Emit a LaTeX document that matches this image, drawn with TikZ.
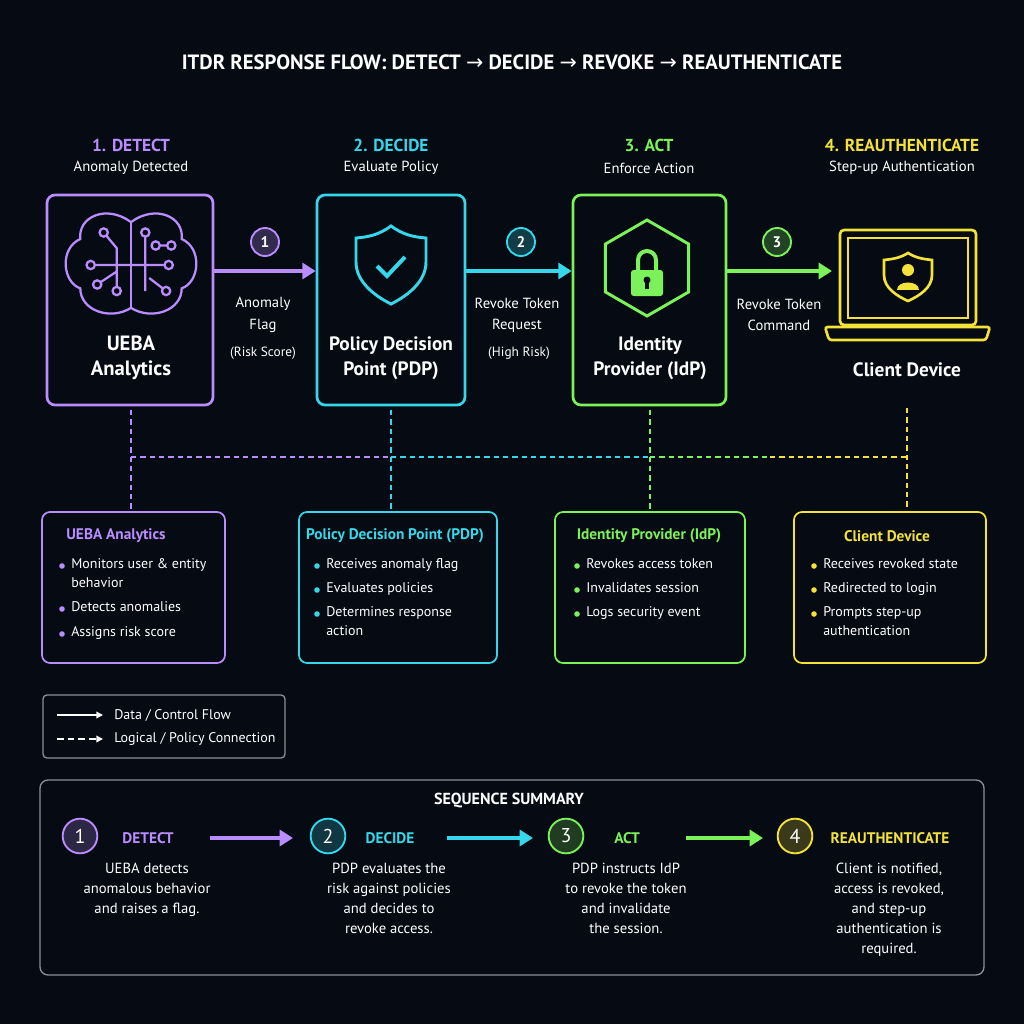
\documentclass[tikz,border=0pt]{standalone}
\usepackage{fontspec}
\setmainfont{PT Sans}
\newfontfamily\djv{DejaVu Sans}
\usetikzlibrary{arrows.meta,shapes.geometric}
\definecolor{bg}{HTML}{060A12}
\definecolor{pur}{HTML}{B98CFF}
\definecolor{cya}{HTML}{35D8EA}
\definecolor{grn}{HTML}{7CF25A}
\definecolor{yel}{HTML}{F2E23A}
\definecolor{gr}{HTML}{8A8F99}
\begin{document}
\begin{tikzpicture}[x=0.75pt,y=-0.75pt,
 txt/.style={text=white,font=\fontsize{11}{16}\selectfont,align=center},
 big/.style={text=white,font=\bfseries\fontsize{15.5}{19}\selectfont,align=center},
 head/.style={font=\bfseries\fontsize{13}{15}\selectfont},
 mbox/.style={draw,line width=2pt,rounded corners=6pt,fill=bg},
 sbox/.style={draw,line width=1.3pt,rounded corners=6pt},
 flow/.style={line width=2.4pt,-{Triangle[length=10pt,width=12pt]}},
 dsh/.style={line width=1.2pt,dash pattern=on 4pt off 3pt},
 num/.style={circle,draw,line width=1.4pt,minimum size=21pt,inner sep=0pt,text=white,font=\bfseries\fontsize{11.5}{12}\selectfont},
 bl/.style={anchor=north west,text=white,font=\fontsize{10.5}{14.5}\selectfont,align=left,inner sep=0pt}]
\fill[bg] (0,0) rectangle (1024,1024);
\useasboundingbox (0,0) rectangle (1024,1024);
\node[text=white,font=\bfseries\fontsize{15.5}{18}\selectfont] (title) at (512,62) {ITDR RESPONSE FLOW: DETECT {\djv\mdseries →} DECIDE {\djv\mdseries →} REVOKE {\djv\mdseries →} REAUTHENTICATE};
% step headings
\foreach \n/\x/\c/\h/\s in {h1/131/pur/1. DETECT/Anomaly Detected,h2/391/cya/2. DECIDE/Evaluate Policy,h3/649/grn/3. ACT/Enforce Action,h4/902/yel/4. REAUTHENTICATE/Step-up Authentication}{
 \node[head,text=\c] (\n) at (\x,145) {\h};
 \node[txt] (\n s) at (\x,168) {\s};}
% main boxes
\node[mbox,draw=pur,minimum width=124.5pt,minimum height=157.5pt] (ueba) at (130,300) {};
\node[mbox,draw=cya,minimum width=111pt,minimum height=157.5pt] (pdp) at (391,300) {};
\node[mbox,draw=grn,minimum width=114.75pt,minimum height=157.5pt] (idp) at (649.5,300) {};
\coordinate (cd) at (832,271);
\node[big] (uebat) at (131,358) {UEBA\\Analytics};
\node[big,font=\bfseries\fontsize{14.5}{18.5}\selectfont] (pdpt) at (391,358) {Policy Decision\\Point (PDP)};
\node[big,font=\bfseries\fontsize{14.5}{18.5}\selectfont] (idpt) at (650,358) {Identity\\Provider (IdP)};
\node[big,font=\bfseries\fontsize{14.5}{18.5}\selectfont] (cdt) at (907,370) {Client Device};
% brain icon
\begin{scope}[pur,line width=1.7pt,shift={(131,265)},scale=1.3,shift={(-131,-265)}]
\draw (131,232) .. controls (112,218) and (90,228) .. (92,245) .. controls (76,252) and (78,278) .. (92,283) .. controls (92,300) and (115,308) .. (131,298) .. controls (147,308) and (170,300) .. (170,283) .. controls (184,278) and (186,252) .. (170,245) .. controls (172,228) and (150,218) .. (131,232) -- cycle;
\draw (131,232) -- (131,298);
\draw (110,240) -- (120,252) -- (120,285) (100,265) -- (131,265) -- (160,265) (142,240) -- (142,285) (150,250)--(162,250) (105,280)--(120,270) (145,275)--(158,285);
\foreach \p in {(110,240),(100,265),(160,265),(150,250),(162,250),(105,280),(158,285),(142,240),(120,285)} \draw[fill=bg] \p circle (3.2);
\end{scope}
% shield check
\begin{scope}[cya,line width=2.2pt]
\draw (391,226) .. controls (380,234) and (370,237) .. (356,238) -- (356,262) .. controls (356,282) and (375,296) .. (391,304) .. controls (407,296) and (426,282) .. (426,262) -- (426,238) .. controls (412,237) and (402,234) .. (391,226) -- cycle;
\draw[line width=3pt] (377,266) -- (387,276) -- (405,257);
\end{scope}
% hexagon lock
\node[regular polygon,regular polygon sides=6,shape border rotate=30,draw=grn,line width=2.2pt,minimum size=72pt] (hex) at (647,268) {};
\draw[grn,line width=3pt] (638,272) -- (638,260) arc (180:360:9) -- (656,272);
\fill[grn,rounded corners=2pt] (631,270) rectangle (663,296);
\fill[bg] (647,280) circle (3.5); \draw[bg,line width=2.5pt] (647,280) -- (647,289);
% laptop
\begin{scope}[yel,line width=2pt]
\draw[rounded corners=3pt] (840,230) rectangle (976,325);
\draw (848,238) rectangle (968,318);
\draw[rounded corners=2pt] (825,327) -- (990,327) -- (986,340) -- (829,340) -- cycle;
\draw (908,253) .. controls (900,258) and (893,259) .. (884,260) -- (884,275) .. controls (884,288) and (897,296) .. (908,301) .. controls (919,296) and (932,288) .. (932,275) -- (932,260) .. controls (923,259) and (916,258) .. (908,253) -- cycle;
\fill (908,270) circle (6);
\fill (897,290) .. controls (897,280) and (919,280) .. (919,290) -- cycle;
\end{scope}
% flows
\draw[flow,pur] (ueba.east |- 0,271) -- (pdp.west |- 0,271);
\draw[flow,cya] (pdp.east |- 0,271) -- (idp.west |- 0,271);
\draw[flow,grn] (idp.east |- 0,271) -- (cd);
\node[num,draw=pur,fill=pur!25!bg] (n1) at (265,242) {1};
\node[num,draw=cya,fill=cya!25!bg] (n2) at (521,242) {2};
\node[num,draw=grn,fill=grn!25!bg] (n3) at (777,242) {3};
\node[txt] (l1) at (263,315) {Anomaly\\Flag};
\node[txt,font=\fontsize{10}{12}\selectfont] (l1b) at (263,353) {(Risk Score)};
\node[txt] (l2) at (517,315) {Revoke Token\\Request};
\node[txt,font=\fontsize{10}{12}\selectfont] (l2b) at (519,353) {(High Risk)};
\node[txt] (l3) at (779,315) {Revoke Token\\Command};
% dashed links
\coordinate (v4) at (907,408);
\draw[dsh,pur] (131,410) -- (131,510);
\draw[dsh,cya] (391,410) -- (391,510);
\draw[dsh,grn] (650,410) -- (650,510);
\draw[dsh,yel] (v4) -- (907,510);
\draw[dsh,pur] (131,457) -- (391,457);
\draw[dsh,cya] (391,457) -- (650,457);
\draw[dsh,grn] (650,457) -- (770,457);
\draw[dsh,yel] (770,457) -- (907,457);
% detail boxes
\draw[sbox,pur] (42,512) rectangle (225,663);
\draw[sbox,cya] (299,512) rectangle (497,663);
\draw[sbox,grn] (555,512) rectangle (745,663);
\draw[sbox,yel] (794,512) rectangle (986,663);
\node[text=pur,font=\fontsize{11.5}{13}\selectfont\bfseries] (d1) at (116,536) {UEBA Analytics};
\node[text=cya,font=\fontsize{11.5}{13}\selectfont\bfseries] (d2) at (395,536) {Policy Decision Point (PDP)};
\node[text=grn,font=\fontsize{11.5}{13}\selectfont\bfseries] (d3) at (649,536) {Identity Provider (IdP)};
\node[text=yel,font=\fontsize{11.5}{13}\selectfont\bfseries] (d4) at (887,536) {Client Device};
\foreach \x/\c/\items in {58/pur/{566/Monitors user \& entity\\behavior,609/Detects anomalies,634/Assigns risk score},
 313/cya/{566/Receives anomaly flag,590/Evaluates policies,614/Determines response\\action},
 573/grn/{566/Revokes access token,590/Invalidates session,614/Logs security event},
 810/yel/{566/Receives revoked state,590/Redirected to login,614/Prompts step-up\\authentication}}{
 \foreach \y/\t in \items {
  \fill[\c] (\x+4,\y) circle (2.8);
  \node[bl] at (\x+13,\y-8) {\t};}}
% legend
\draw[line width=1pt,gr,rounded corners=3pt] (43,695) rectangle (285,758);
\coordinate (la) at (57,715); \coordinate (lb) at (103,715);
\coordinate (lc) at (57,739); \coordinate (ld) at (103,739);
\draw[white,line width=1.1pt,-{Triangle[length=5pt,width=5pt]}] (la) -- (lb);
\draw[white,line width=1.1pt,dash pattern=on 5pt off 3pt,-{Triangle[length=5pt,width=5pt]}] (lc) -- (ld);
\node[bl,anchor=west,font=\fontsize{10.5}{12}\selectfont] (lg1) at (114,715) {Data / Control Flow};
\node[bl,anchor=west,font=\fontsize{10.5}{12}\selectfont] (lg2) at (114,739) {Logical / Policy Connection};
% summary
\draw[line width=1pt,gr,rounded corners=6pt] (40,780) rectangle (984,975);
\node[text=white,font=\bfseries\fontsize{12}{14}\selectfont] (st) at (509,800) {SEQUENCE SUMMARY};
\foreach \n/\k/\x/\c/\lx/\l/\d in {s1/1/80/pur/148/DETECT/{UEBA detects\\anomalous behavior\\and raises a flag.},
 s2/2/328/cya/390/DECIDE/{PDP evaluates the\\risk against policies\\and decides to\\revoke access.},
 s3/3/566/grn/627/ACT/{PDP instructs IdP\\to revoke the token\\and invalidate\\the session.},
 s4/4/795/yel/890/REAUTHENTICATE/{Client is notified,\\access is revoked,\\and step-up\\authentication is\\required.}}{
 \node[num,draw=\c,fill=\c!22!bg,minimum size=26pt,font=\fontsize{15}{16}\selectfont] (\n) at (\x,836) {\k};
 \node[text=\c,font=\bfseries\fontsize{11.5}{13}\selectfont] (\n l) at (\lx,838) {\l};
 \node[txt,anchor=north,font=\fontsize{11}{15}\selectfont] (\n d) at (\lx-1,858) {\d};}
\coordinate (a1) at (210,838); \coordinate (b1) at (293,838);
\coordinate (a2) at (447,838); \coordinate (b2) at (533,838);
\coordinate (a3) at (686,838); \coordinate (b3) at (763,838);
\draw[flow,pur] (a1) -- (b1);
\draw[flow,cya] (a2) -- (b2);
\draw[flow,grn] (a3) -- (b3);
\end{tikzpicture}
\end{document}
